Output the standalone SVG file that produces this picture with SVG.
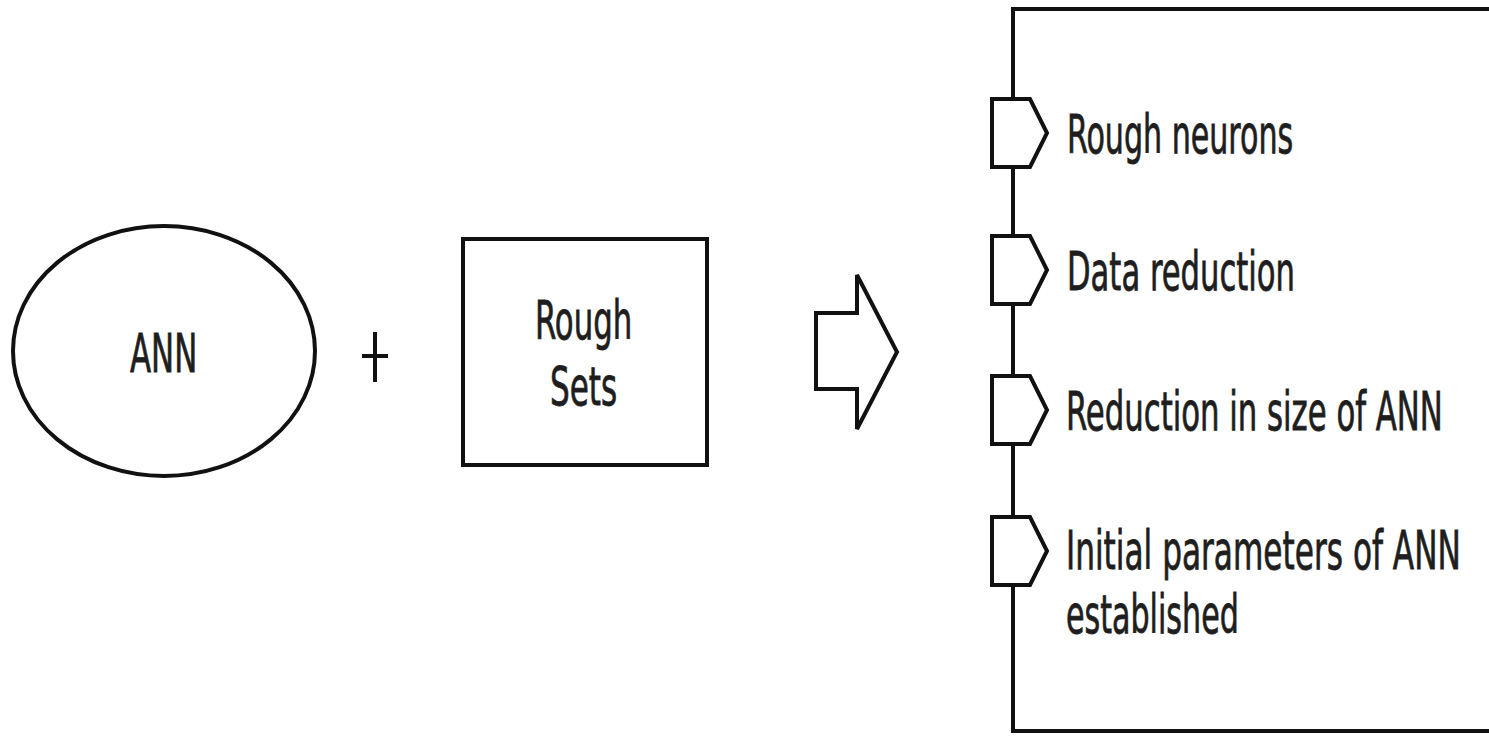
<svg xmlns="http://www.w3.org/2000/svg" width="1489" height="738" viewBox="0 0 1489 738">
  <style>
    .shape { fill: #ffffff; stroke: #111111; stroke-width: 4; stroke-linejoin: miter; }
    .line { fill: none; stroke: #111111; stroke-width: 4; }
    .label { font-family: "DejaVu Sans", "Liberation Sans", sans-serif; font-stretch: condensed; font-size: 54px; fill: #1e1e1e; stroke: #1e1e1e; stroke-width: 0.8; }
  </style>
  <rect x="0" y="0" width="1489" height="738" fill="#ffffff"/>

  <!-- labels are drawn in a narrow face: glyphs squeezed to 60% horizontally -->
  <g id="ann">
    <ellipse class="shape" cx="164" cy="351" rx="151" ry="125" stroke-width="3.5"/>
    <text class="label" transform="translate(130,372) scale(0.6,1)" textLength="112" lengthAdjust="spacingAndGlyphs">ANN</text>
  </g>

  <g id="plus">
    <line class="line" x1="375" y1="332" x2="375" y2="382" stroke-width="3"/>
    <line class="line" x1="362" y1="356" x2="388" y2="356" stroke-width="3"/>
  </g>

  <g id="rough-sets">
    <rect class="shape" x="463" y="239" width="244" height="226" stroke-width="5"/>
    <text class="label" transform="translate(535,339) scale(0.6,1)" textLength="162" lengthAdjust="spacingAndGlyphs">Rough</text>
    <text class="label" transform="translate(550,405) scale(0.6,1)" textLength="112" lengthAdjust="spacingAndGlyphs">Sets</text>
  </g>

  <g id="arrow">
    <polygon class="shape" points="816,313 857,313 857,275 897,352 857,429 857,389 816,389"/>
  </g>

  <g id="outcomes">
    <!-- open frame: top, left and bottom edges -->
    <path class="line" d="M1489,9 H1013 V731 H1489" stroke-width="5"/>

    <g id="tab-rough-neurons">
      <polygon class="shape" points="992,99 1030,99 1047,133 1030,167 992,167"/>
      <text class="label" transform="translate(1067,153) scale(0.6,1)" textLength="377" lengthAdjust="spacingAndGlyphs">Rough neurons</text>
    </g>
    <g id="tab-data-reduction">
      <polygon class="shape" points="992,236 1030,236 1047,270 1030,304 992,304"/>
      <text class="label" transform="translate(1067,290) scale(0.6,1)" textLength="380" lengthAdjust="spacingAndGlyphs">Data reduction</text>
    </g>
    <g id="tab-size-reduction">
      <polygon class="shape" points="992,376 1030,376 1047,410 1030,444 992,444"/>
      <text class="label" transform="translate(1066,430) scale(0.6,1)" textLength="628" lengthAdjust="spacingAndGlyphs">Reduction in size of ANN</text>
    </g>
    <g id="tab-initial-parameters">
      <polygon class="shape" points="992,517 1030,517 1047,551 1030,585 992,585"/>
      <text class="label" transform="translate(1066,569) scale(0.6,1)" textLength="658" lengthAdjust="spacingAndGlyphs">Initial parameters of ANN</text>
      <text class="label" transform="translate(1066,633) scale(0.6,1)" textLength="288" lengthAdjust="spacingAndGlyphs">established</text>
    </g>
  </g>
</svg>
